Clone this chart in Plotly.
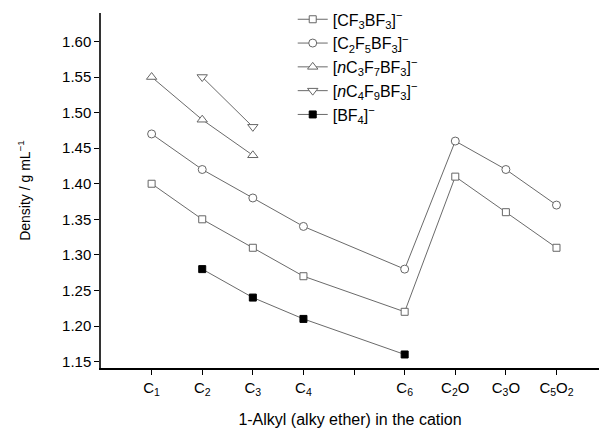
import plotly.graph_objects as go

x_pos = [1, 2, 3, 4, 5, 6, 7, 8, 9]
x_labels = ["C<sub>1</sub>", "C<sub>2</sub>", "C<sub>3</sub>", "C<sub>4</sub>", "",
            "C<sub>6</sub>", "C<sub>2</sub>O", "C<sub>3</sub>O", "C<sub>5</sub>O<sub>2</sub>"]

cf3_x = [1, 2, 3, 4, 6, 7, 8, 9]
cf3_y = [1.40, 1.35, 1.31, 1.27, 1.22, 1.41, 1.36, 1.31]

c2f5_x = [1, 2, 3, 4, 6, 7, 8, 9]
c2f5_y = [1.47, 1.42, 1.38, 1.34, 1.28, 1.46, 1.42, 1.37]

c3f7_x = [1, 2, 3]
c3f7_y = [1.55, 1.49, 1.44]

c4f9_x = [2, 3]
c4f9_y = [1.55, 1.48]

bf4_x = [2, 3, 4, 6]
bf4_y = [1.28, 1.24, 1.21, 1.16]

y_ticks = [1.15, 1.20, 1.25, 1.30, 1.35, 1.40, 1.45, 1.50, 1.55, 1.60]

line_col = "#444444"
mk_col = "#666666"

fig = go.Figure()

def add(xs, ys, name, symbol, fill="white", mcol=mk_col, size=7):
    fig.add_trace(go.Scatter(
        x=xs, y=ys, name=name, mode="lines+markers",
        line=dict(color=line_col, width=0.8),
        marker=dict(symbol=symbol, size=size, color=fill,
                    line=dict(color=mcol, width=1)),
    ))

add(cf3_x, cf3_y, "[CF<sub>3</sub>BF<sub>3</sub>]<sup>−</sup>", "square")
add(c2f5_x, c2f5_y, "[C<sub>2</sub>F<sub>5</sub>BF<sub>3</sub>]<sup>−</sup>", "circle", size=8)
add(c3f7_x, c3f7_y, "[<i>n</i>C<sub>3</sub>F<sub>7</sub>BF<sub>3</sub>]<sup>−</sup>", "triangle-up", size=9)
add(c4f9_x, c4f9_y, "[<i>n</i>C<sub>4</sub>F<sub>9</sub>BF<sub>3</sub>]<sup>−</sup>", "triangle-down", size=9)
add(bf4_x, bf4_y, "[BF<sub>4</sub>]<sup>−</sup>", "square", fill="black", mcol="black")

fig.update_layout(
    width=599, height=434,
    margin=dict(l=101, r=0, t=13, b=66),
    paper_bgcolor="white", plot_bgcolor="white",
    font=dict(family="Liberation Sans, Arial, sans-serif", size=15, color="black"),
    showlegend=True,
    legend=dict(x=0.385, y=1.03, xanchor="left", yanchor="top",
                font=dict(size=16), tracegroupgap=0,
                bgcolor="rgba(0,0,0,0)", itemwidth=30),
    xaxis=dict(range=[0, 9.84], tickmode="array", tickvals=x_pos, ticktext=x_labels,
               showgrid=False, zeroline=False, showline=True, linecolor="black",
               linewidth=1.5, ticks="outside", ticklen=5, tickcolor="black",
               tickfont=dict(size=15),
               title=dict(text="1-Alkyl (alky ether) in the cation", font=dict(size=16), standoff=17)),
    yaxis=dict(range=[1.141, 1.640], tickmode="array", tickvals=y_ticks,
               ticktext=[f"{v:.2f}" for v in y_ticks],
               showgrid=False, zeroline=False, showline=True, linecolor="#333333",
               linewidth=1.5, ticks="outside", ticklen=5, tickcolor="black",
               tickfont=dict(size=15),
               title=dict(text="Density / g mL<sup>−1</sup>", font=dict(size=14), standoff=28)),
)

fig.write_html("out.html")
